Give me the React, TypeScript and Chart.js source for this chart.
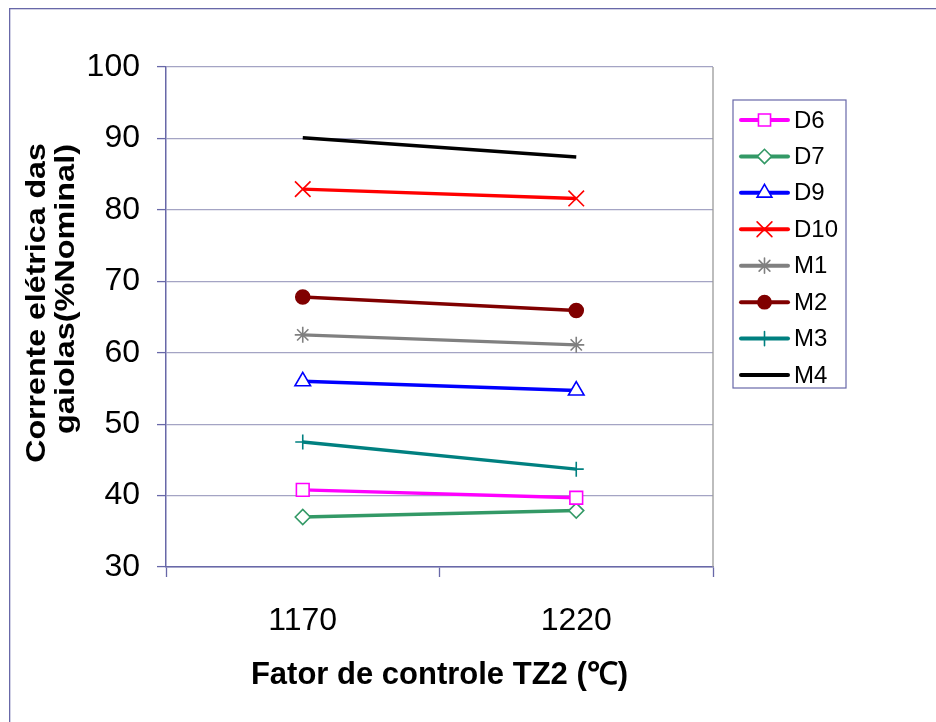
import React, { useEffect, useRef } from 'react';
import { Chart, registerables } from 'chart.js';
import { drawPoint } from 'chart.js/helpers';

Chart.register(...registerables);

const categories = ['1170', '1220'];
const seriesNames = ['D6', 'D7', 'D9', 'D10', 'M1', 'M2', 'M3', 'M4'];
const d6Values = [40.8, 39.7];
const d7Values = [37.0, 37.9];
const d9Values = [56.0, 54.7];
const d10Values = [82.9, 81.6];
const m1Values = [62.5, 61.1];
const m2Values = [67.8, 65.9];
const m3Values = [47.5, 43.7];
const m4Values = [90.1, 87.4];
const yMin = 30;
const yMax = 100;
const yStep = 10;
const xTitle = 'Fator de controle TZ2 (℃)';
const yTitleLines = ['Corrente elétrica das', 'gaiolas(%Nominal)'];

const FAMILY = "'Liberation Sans', Arial, sans-serif";
const AXIS = '#6868a8';
const GRID = '#a4a4c4';

const seriesValues = [d6Values, d7Values, d9Values, d10Values, m1Values, m2Values, m3Values, m4Values];
const seriesStyles = [
  { color: '#ff00ff', fill: '#ffffff', style: 'rect', radius: 9 },
  { color: '#339966', fill: '#ffffff', style: 'rectRot', radius: 7.5 },
  { color: '#0000ff', fill: '#ffffff', style: 'triangle', radius: 9 },
  { color: '#ff0000', fill: '#ff0000', style: 'crossRot', radius: 11 },
  { color: '#808080', fill: '#808080', style: 'star', radius: 8 },
  { color: '#800000', fill: '#800000', style: 'circle', radius: 7 },
  { color: '#008080', fill: '#008080', style: 'cross', radius: 7.5 },
  { color: '#000000', fill: '#000000', style: 'circle', radius: 0 },
];

const decorPlugin = {
  id: 'decor',
  afterDraw(chart: any) {
    const ctx = chart.ctx;
    const area = chart.chartArea;
    ctx.save();
    // outer frame
    ctx.fillStyle = AXIS;
    ctx.fillRect(1, 0, chart.width - 1, 1.3);
    ctx.fillRect(1, 0, 1.3, chart.height);
    // right plot border
    ctx.strokeStyle = '#9a9a9a';
    ctx.lineWidth = 1.3;
    ctx.beginPath();
    ctx.moveTo(area.right, area.top);
    ctx.lineTo(area.right, area.bottom);
    ctx.stroke();

    // y title (two lines, rotated)
    ctx.fillStyle = '#000';
    ctx.font = `bold 27px ${FAMILY}`;
    ctx.textAlign = 'center';
    ctx.textBaseline = 'alphabetic';
    const yc = [295, 281];
    const bx = [37, 66];
    const stretch = [1.19, 1.2];
    yTitleLines.forEach((t, i) => {
      ctx.save();
      ctx.translate(bx[i], yc[i]);
      ctx.rotate(-Math.PI / 2);
      ctx.scale(stretch[i], 1);
      ctx.fillText(t, 0, 0);
      ctx.restore();
    });

    // legend
    const lx = 725, ly = 92, lw = 113, lh = 288;
    ctx.fillStyle = '#ffffff';
    ctx.fillRect(lx, ly, lw, lh);
    ctx.strokeStyle = AXIS;
    ctx.lineWidth = 1.2;
    ctx.strokeRect(lx, ly, lw, lh);
    chart.data.datasets.forEach((ds: any, i: number) => {
      const y = 112 + i * 36.43;
      ctx.strokeStyle = ds.borderColor;
      ctx.lineWidth = 4;
      ctx.lineCap = 'round';
      ctx.beginPath();
      ctx.moveTo(733, y);
      ctx.lineTo(780, y);
      ctx.stroke();
      if (ds.pointRadius > 0) {
        ctx.fillStyle = ds.pointBackgroundColor;
        ctx.strokeStyle = ds.borderColor;
        ctx.lineWidth = ds.pointBorderWidth;
        drawPoint(ctx, { pointStyle: ds.pointStyle, radius: ds.pointRadius * 0.95, rotation: 0, borderWidth: ds.pointBorderWidth }, 756.5, y);
      }
      ctx.fillStyle = '#000';
      ctx.font = `24px ${FAMILY}`;
      ctx.textAlign = 'left';
      ctx.textBaseline = 'middle';
      ctx.fillText(ds.label, 786, y + 1);
    });
    ctx.restore();
  },
};

export default function App() {
  const ref = useRef<HTMLCanvasElement | null>(null);
  useEffect(() => {
    if (!ref.current) return;
    const datasets = seriesNames.map((name, i) => ({
      label: name,
      data: seriesValues[i],
      borderColor: seriesStyles[i].color,
      backgroundColor: seriesStyles[i].fill,
      pointBackgroundColor: seriesStyles[i].fill,
      pointBorderColor: seriesStyles[i].color,
      pointStyle: seriesStyles[i].style,
      pointRadius: seriesStyles[i].radius,
      pointHoverRadius: seriesStyles[i].radius,
      pointBorderWidth: 1.6,
      borderWidth: 3.4,
      tension: 0,
      fill: false,
    }));
    const chart = new Chart(ref.current, {
      type: 'line',
      data: { labels: categories, datasets },
      plugins: [decorPlugin],
      options: {
        responsive: false,
        animation: false,
        events: [],
        layout: { padding: { top: 59, right: 223, left: 0, bottom: 0 } },
        plugins: { legend: { display: false }, tooltip: { enabled: false }, title: { display: false } },
        scales: {
          x: {
            type: 'category',
            offset: true,
            grid: { display: true, drawOnChartArea: false, drawTicks: true, tickLength: 10, tickColor: AXIS, tickWidth: 1.3, offset: true },
            border: { display: true, color: AXIS, width: 1.5 },
            ticks: { font: { size: 32, family: FAMILY }, color: '#000', padding: 25, maxRotation: 0 },
            title: {
              display: true,
              text: xTitle,
              color: '#000',
              font: { size: 31, weight: 'bold', family: FAMILY },
              padding: { top: 0, bottom: 28 },
            },
            afterFit: (s: any) => { s.height = 155; },
          },
          y: {
            min: yMin,
            max: yMax,
            ticks: { stepSize: yStep, font: { size: 32, family: FAMILY }, color: '#000', padding: 17 },
            grid: { color: GRID, lineWidth: 1.2, tickColor: AXIS, tickLength: 9, tickWidth: 1.3 },
            border: { display: true, color: AXIS, width: 1.5 },
            afterFit: (s: any) => { s.width = 158; },
          },
        },
      } as any,
    });
    return () => chart.destroy();
  }, []);
  return (
    <div style={{ position: 'fixed', left: 8, top: 8, width: 928, height: 714, background: '#fff' }}>
      <canvas ref={ref} width={928} height={714} style={{ display: 'block' }} />
    </div>
  );
}
